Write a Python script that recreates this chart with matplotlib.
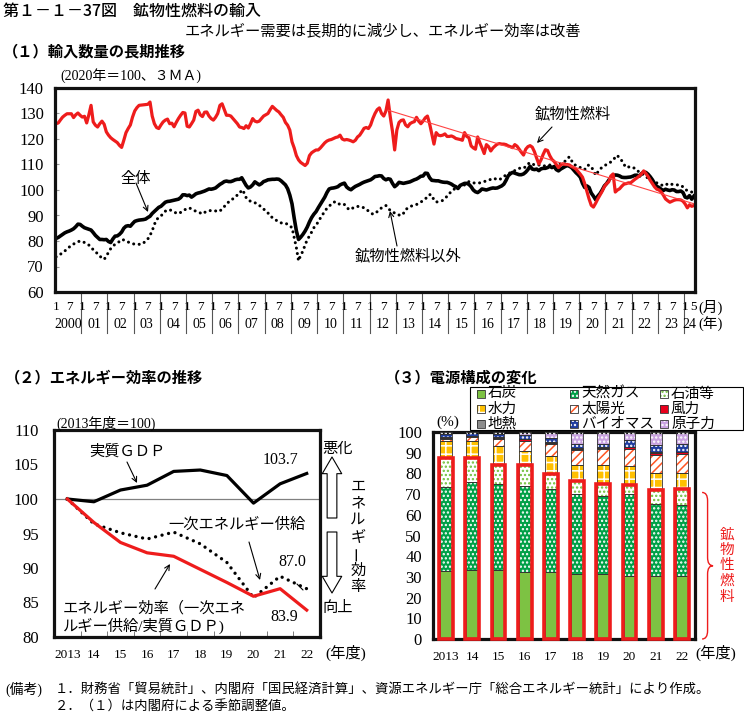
import numpy as np
import matplotlib
matplotlib.use("Agg")
import matplotlib.pyplot as plt
from matplotlib.patches import Rectangle, PathPatch
from matplotlib.path import Path
from matplotlib.transforms import blended_transform_factory

# ==========================[Data]=============================

# (1) import volume, 2020=100, 3MA, monthly from 2000-01 to 2024-05
mineral = [
    126.0, 126.3, 127.5, 128.6, 129.3, 129.9, 129.9, 129.9, 128.4, 129.5, 130.2, 129.3,  # 2000
    128.6, 128.9, 126.3, 129.5, 133.2, 126.7, 125.4, 124.7, 126.0, 127.0, 125.8, 122.8,  # 2001
    121.5, 120.5, 119.8, 119.2, 118.6, 117.5, 116.7, 119.5, 122.5, 124.1, 125.5, 128.6,  # 2002
    131.0, 132.3, 133.2, 133.3, 133.4, 133.5, 133.6, 134.5, 129.0, 126.0, 124.5, 124.1,  # 2003
    125.5, 126.7, 127.4, 127.8, 126.0, 126.2, 124.8, 126.5, 128.0, 129.3, 130.4, 130.2,  # 2004
    125.0, 124.7, 126.0, 127.4, 130.8, 131.3, 129.5, 128.8, 130.5, 130.6, 129.0, 128.0,  # 2005
    127.4, 128.5, 130.0, 133.2, 133.8, 131.5, 129.3, 129.3, 129.0, 128.0, 127.0, 126.0,  # 2006
    124.7, 124.5, 124.1, 125.2, 124.3, 126.0, 128.0, 127.0, 126.7, 127.0, 128.0, 129.0,  # 2007
    129.5, 130.0, 131.5, 132.8, 132.0, 131.2, 130.6, 129.5, 128.5, 126.5, 125.4, 123.5,  # 2008
    118.9, 116.5, 113.5, 111.8, 110.8, 110.2, 109.6, 110.5, 113.5, 114.6, 115.2, 115.7,  # 2009
    115.7, 116.5, 117.5, 118.5, 119.2, 119.6, 119.8, 120.2, 120.6, 120.8, 121.5, 120.0,  # 2010
    119.6, 119.8, 119.6, 119.3, 118.9, 119.5, 120.8, 121.5, 122.8, 124.2, 124.5, 124.1,  # 2011
    125.5, 128.0, 130.0, 131.5, 132.2, 130.0, 129.0, 131.0, 135.3, 128.6, 123.0, 115.7,  # 2012
    123.5, 126.5, 127.3, 127.5, 125.5, 124.8, 126.0, 126.5, 126.8, 128.5, 127.0, 126.0,  # 2013
    127.0, 128.3, 129.0, 126.0, 122.0, 118.0, 122.5, 121.5, 121.3, 121.5, 122.0, 121.0,  # 2014
    121.0, 121.2, 120.8, 120.2, 120.0, 119.8, 119.5, 122.5, 121.0, 120.5, 117.3, 116.5,  # 2015
    116.0, 120.8, 118.5, 116.5, 114.3, 117.8, 117.0, 115.3, 116.5, 117.3, 118.0, 118.2,  # 2016
    118.0, 118.0, 117.8, 117.3, 117.0, 116.6, 117.8, 117.2, 116.0, 114.8, 113.7, 116.0,  # 2017
    117.0, 117.4, 116.8, 115.0, 112.5, 110.2, 111.8, 114.0, 115.8, 115.5, 113.5, 112.0,  # 2018
    111.2, 110.0, 108.8, 109.8, 110.3, 110.0, 110.0, 109.8, 109.2, 108.8, 108.2, 107.2,  # 2019
    106.2, 105.0, 102.5, 99.5, 96.5, 94.0, 93.3, 94.8, 96.5, 98.0, 99.5, 101.3,  # 2020
    102.5, 103.2, 105.5, 106.3, 99.2, 100.0, 100.5, 101.5, 102.3, 102.5, 102.8, 102.8,  # 2021
    103.5, 104.2, 104.8, 105.5, 106.3, 107.5, 106.5, 105.3, 103.8, 102.5, 101.2, 100.3,  # 2022
    100.0, 99.2, 98.0, 96.5, 95.8, 95.2, 95.6, 96.0, 96.2, 96.2, 96.1, 95.6,  # 2023
    94.5, 93.0, 94.2, 93.6, 93.9,  # 2024
]

total = [
    81.0, 81.4, 82.0, 82.6, 83.2, 83.6, 83.9, 84.3, 84.8, 85.6, 86.6, 86.5,  # 2000
    85.8, 85.2, 84.9, 84.6, 84.3, 83.3, 82.2, 81.4, 80.6, 80.6, 80.5, 80.6,  # 2001
    79.8, 79.4, 80.8, 81.9, 82.0, 82.6, 83.5, 85.0, 85.8, 86.0, 85.8, 86.8,  # 2002
    87.7, 88.0, 88.2, 88.3, 88.4, 88.6, 89.2, 89.7, 90.8, 91.6, 92.4, 93.2,  # 2003
    93.6, 94.4, 95.2, 95.5, 95.6, 95.8, 96.0, 96.2, 96.4, 97.0, 98.1, 98.1,  # 2004
    97.8, 98.0, 97.2, 97.8, 98.5, 98.8, 99.0, 99.3, 99.6, 100.0, 100.4, 100.3,  # 2005
    100.5, 100.8, 101.5, 102.2, 102.7, 103.3, 103.5, 103.3, 103.3, 103.6, 104.0, 104.2,  # 2006
    104.2, 104.8, 103.3, 101.8, 100.8, 101.2, 102.0, 103.2, 102.6, 102.0, 102.5, 103.3,  # 2007
    103.6, 104.0, 104.1, 104.2, 104.2, 104.3, 104.2, 103.6, 102.8, 102.0, 100.5, 98.0,  # 2008
    94.6, 89.0, 84.0, 80.6, 81.5, 82.6, 83.9, 85.5, 87.5, 89.2, 90.5, 91.5,  # 2009
    93.0, 94.4, 95.8, 97.2, 99.0, 100.4, 100.7, 100.8, 101.0, 101.3, 102.0, 102.4,  # 2010
    102.7, 101.2, 100.5, 100.1, 100.8, 101.4, 101.8, 102.2, 102.7, 103.1, 103.4, 103.7,  # 2011
    104.0, 104.6, 105.3, 105.4, 105.6, 105.5, 104.5, 104.0, 104.4, 104.2, 102.6, 101.3,  # 2012
    102.0, 103.0, 102.8, 102.6, 102.8, 103.0, 103.2, 103.6, 104.0, 104.3, 104.8, 105.4,  # 2013
    105.5, 106.6, 106.5, 104.8, 103.8, 103.7, 103.6, 103.6, 103.3, 103.1, 103.0, 103.0,  # 2014
    102.7, 102.3, 101.7, 101.3, 100.6, 101.8, 102.2, 102.6, 102.6, 102.2, 101.3, 100.0,  # 2015
    99.3, 99.0, 99.6, 100.4, 100.2, 100.0, 100.3, 100.6, 100.8, 100.7, 100.8, 101.2,  # 2016
    101.6, 102.3, 103.8, 105.6, 106.4, 106.9, 106.6, 106.3, 106.0, 106.0, 106.3, 107.0,  # 2017
    108.0, 109.3, 108.2, 108.0, 108.2, 107.6, 108.3, 108.5, 108.5, 108.8, 109.3, 108.8,  # 2018
    109.2, 108.0, 107.5, 108.2, 108.7, 109.2, 109.6, 109.3, 108.8, 107.8, 106.8, 106.0,  # 2019
    105.0, 102.6, 101.0, 101.6, 101.0, 98.8, 97.6, 96.2, 97.6, 98.6, 100.0, 101.6,  # 2020
    102.5, 103.8, 105.0, 105.6, 105.9, 105.8, 105.5, 105.0, 104.9, 104.9, 105.0, 105.1,  # 2021
    105.4, 105.8, 105.8, 105.4, 106.4, 107.0, 106.9, 106.2, 105.2, 104.0, 102.5, 101.4,  # 2022
    101.0, 100.3, 99.8, 100.3, 100.0, 99.8, 100.1, 100.0, 99.4, 99.4, 99.6, 99.0,  # 2023
    97.2, 96.9, 97.8, 96.4, 97.6,  # 2024
]

non_mineral = [
    73.8, 74.3, 74.8, 75.5, 76.1, 76.8, 77.6, 78.3, 78.8, 79.3, 79.7, 80.0,  # 2000
    79.8, 79.4, 79.0, 78.4, 77.5, 76.6, 75.8, 75.0, 74.1, 73.3, 72.8, 74.0,  # 2001
    75.6, 77.0, 78.0, 78.7, 79.2, 79.8, 80.6, 80.4, 80.0, 79.6, 79.2, 78.9,  # 2002
    78.8, 78.7, 78.7, 78.7, 79.2, 80.0, 80.8, 82.2, 84.0, 86.5, 88.4, 89.2,  # 2003
    89.8, 90.8, 91.7, 92.0, 92.3, 91.8, 91.3, 91.0, 90.7, 91.2, 91.7, 92.3,  # 2004
    92.7, 93.0, 92.5, 92.0, 91.7, 91.4, 91.0, 90.6, 91.2, 91.7, 91.8, 92.0,  # 2005
    92.0, 91.8, 91.5, 91.8, 92.5, 93.5, 94.5, 95.3, 95.8, 96.6, 97.4, 98.0,  # 2006
    98.5, 100.1, 99.0, 97.0, 96.0, 95.6, 95.4, 95.0, 94.6, 94.0, 93.3, 92.5,  # 2007
    91.9, 91.0, 89.8, 89.2, 88.6, 88.0, 87.5, 87.1, 87.1, 87.0, 86.5, 85.8,  # 2008
    85.3, 81.3, 77.4, 72.2, 74.5, 76.0, 78.5, 80.5, 82.0, 83.5, 85.2, 86.2,  # 2009
    87.5, 89.0, 90.3, 91.7, 92.8, 93.6, 94.5, 95.2, 95.4, 95.0, 94.2, 94.3,  # 2010
    94.3, 93.5, 92.3, 92.5, 93.0, 93.2, 93.6, 93.3, 93.3, 93.0, 92.3, 91.8,  # 2011
    91.2, 90.5, 90.8, 91.5, 92.3, 93.0, 93.5, 93.9, 92.8, 92.0, 91.3, 91.0,  # 2012
    90.8, 90.2, 90.0, 90.8, 92.3, 92.9, 93.5, 93.8, 94.0, 94.3, 94.8, 95.3,  # 2013
    95.8, 96.5, 97.3, 98.2, 98.0, 96.0, 95.3, 95.4, 95.6, 95.9, 96.8, 97.5,  # 2014
    98.6, 99.4, 100.2, 100.7, 101.0, 101.4, 101.6, 102.0, 102.5, 103.3, 103.0, 102.8,  # 2015
    102.7, 102.7, 102.8, 103.0, 103.3, 103.6, 103.8, 104.2, 104.6, 104.4, 104.0, 104.1,  # 2016
    104.6, 105.3, 105.9, 106.4, 106.8, 107.3, 107.6, 108.0, 108.5, 108.6, 108.5, 109.2,  # 2017
    110.2, 110.7, 110.3, 109.8, 109.8, 109.8, 109.6, 109.4, 109.5, 109.8, 109.8, 109.6,  # 2018
    109.3, 109.5, 110.0, 110.3, 110.7, 111.3, 112.3, 113.0, 111.5, 110.0, 109.7, 109.3,  # 2019
    108.8, 108.3, 108.0, 109.5, 109.8, 109.0, 107.8, 105.8, 107.0, 108.3, 108.8, 109.5,  # 2020
    110.0, 110.5, 111.0, 111.8, 112.8, 113.6, 112.2, 111.5, 110.0, 108.8, 109.0, 109.2,  # 2021
    108.8, 108.5, 107.9, 106.8, 106.5, 106.0, 105.3, 104.6, 104.3, 103.8, 103.3, 102.8,  # 2022
    102.4, 102.0, 101.7, 101.8, 102.5, 102.6, 102.2, 102.0, 102.0, 102.0, 101.9, 101.2,  # 2023
    100.2, 99.8, 99.4, 99.2, 97.8,  # 2024
]

first_year = 2000
trend_months = [(2012, 9), (2024, 5)]
trend_values = [131.3, 94.6]

# (2) energy efficiency, FY2013=100
fy_labels = ['2013', '14', '15', '16', '17', '18', '19', '20', '21', '22']
gdp = [100.0, 99.6, 101.3, 102.0, 104.0, 104.2, 103.4, 99.4, 102.2, 103.7]
supply = [100.0, 96.4, 95.1, 94.2, 95.2, 93.5, 90.8, 85.7, 88.8, 87.0]
efficiency = [100.0, 96.6, 93.7, 92.2, 91.7, 89.8, 87.9, 85.9, 87.0, 83.9]

# (3) power source mix (%)
src_names = ['石炭', '天然ガス', '石油等', '水力', '太陽光', '風力', '地熱', 'バイオマス', '原子力']
coal = [32.7, 33.1, 33.5, 32.3, 32.3, 31.2, 31.5, 30.4, 30.4, 30.4]
gas = [40.9, 42.8, 41.3, 41.6, 40.0, 38.7, 37.6, 39.5, 34.6, 34.2]
oil = [13.6, 11.3, 9.3, 10.2, 7.3, 6.5, 6.0, 4.5, 6.8, 7.7]
hydro = [8.3, 8.3, 9.3, 6.8, 8.9, 7.7, 8.9, 9.3, 8.6, 7.7]
solar = [1.2, 1.9, 3.3, 4.9, 5.7, 7.2, 7.6, 8.0, 8.6, 9.3]
wind = [0.5, 0.5, 0.5, 0.6, 0.6, 0.7, 0.7, 0.9, 0.9, 0.9]
geo = [0.2, 0.2, 0.2, 0.2, 0.2, 0.2, 0.3, 0.3, 0.3, 0.3]
biomass = [1.7, 1.9, 1.7, 1.8, 1.9, 2.1, 1.8, 3.2, 3.3, 3.9]
nuclear = [0.9, 0.0, 0.9, 1.6, 3.1, 5.7, 5.6, 3.9, 6.5, 5.6]

# ==========================[Style]=============================

W, H = 744, 724
SERIF = ['Liberation Serif', 'Noto Sans CJK JP']
GOTH = ['Noto Sans CJK JP', 'DejaVu Sans']
RED = '#ee1c1c'
plt.rcParams['font.family'] = SERIF
plt.rcParams['hatch.linewidth'] = 1.1

# face, hatch, hatch colour
src_style = [
    ('#7dc243', None, None),
    ('#00a047', '....', 'white'),
    ('white', '....', '#6fbf3a'),
    ('#ffc000', '++', 'white'),
    ('white', '////', '#ff5522'),
    ('#e8001c', None, None),
    ('#8c8c8c', None, None),
    ('#1f3c9e', '....', 'white'),
    ('#c9a3e0', '....', 'white'),
]


def P(x, y):
    return x / W, 1 - y / H


def ftext(x, y, s, **kw):
    kw.setdefault('va', 'center')
    fig.text(*P(x, y), s, **kw)


def vtext(x, y0, step, s, **kw):
    for k, ch in enumerate(s):
        rot = 90 if ch == 'ー' else 0
        fig.text(*P(x, y0 + k * step), ch, ha='center', va='center', rotation=rot, **kw)


def arrow(x1, y1, x2, y2, style='->', **kw):
    fig.add_artist(matplotlib.patches.FancyArrowPatch(
        P(x1, y1), P(x2, y2), transform=fig.transFigure, arrowstyle=style,
        mutation_scale=kw.pop('ms', 9), lw=kw.pop('lw', 0.8), color=kw.pop('color', 'black'),
        shrinkA=0, shrinkB=0, **kw))


def frame(ax):
    for s in ax.spines.values():
        s.set_linewidth(2.3)
        s.set_color('#111111')


fig = plt.figure(figsize=(W / 100, H / 100), dpi=100)

# ==========================[Titles]=============================
ftext(3, 11, '第１－１－37図　鉱物性燃料の輸入', family=GOTH, fontsize=11.5, fontweight='medium')
ftext(383, 31, 'エネルギー需要は長期的に減少し、エネルギー効率は改善', family=GOTH, fontsize=11,
      ha='center')
ftext(3, 51, '（１）輸入数量の長期推移', family=GOTH, fontsize=11, fontweight='bold')
ftext(5, 377, '（２）エネルギー効率の推移', family=GOTH, fontsize=11, fontweight='bold')
ftext(385, 377, '（３）電源構成の変化', family=GOTH, fontsize=11, fontweight='bold')

# ==========================[(1) Long term]=============================
ax1 = fig.add_axes([55 / W, 1 - 292 / H, 640 / W, 204 / H])
n = len(mineral)
m = np.arange(n)
ax1.plot(m, non_mineral, color='black', lw=2.2, linestyle=(0, (0.01, 1.8)), dash_capstyle='round')
ax1.plot(m, total, color='black', lw=2.6)
ax1.plot(m, mineral, color=RED, lw=2.3)
tm = [(y - first_year) * 12 + mo - 1 for y, mo in trend_months]
ax1.plot(tm, trend_values, color='#ff4444', lw=0.8)
ax1.set_xlim(-0.5, n - 0.5)
ax1.set_ylim(60, 140)
ax1.set_yticks(range(60, 141, 10))
ax1.set_xticks([])
ax1.tick_params(axis='y', direction='in', length=3, color='#999999', labelsize=12, pad=8)
frame(ax1)

tr = blended_transform_factory(ax1.transData, ax1.transAxes)
years = list(range(first_year, first_year + (n + 11) // 12))
for y in years:
    s = (y - first_year) * 12
    e = min(s + 12, n)
    marks = [(0, '1'), (6, '7')] if e - s == 12 else [(0, '1'), (e - s - 1, '5')]
    for off, lab in marks:
        ax1.text(s + off, -0.072, lab, transform=tr, ha='center', va='center', fontsize=9.5)
    ax1.text((s + e - 1) / 2, -0.157, '2000' if y == first_year else '%02d' % (y % 100),
             transform=tr, ha='center', va='center', fontsize=10)
    if s > 0:
        ax1.plot([s - 0.5, s - 0.5], [0, -0.2], transform=tr, clip_on=False, color='#555555', lw=0.8)
ftext(698, 307, '(月)', fontsize=10.5)
ftext(698, 324, '(年)', fontsize=10.5)
ftext(60, 76, '(2020年＝100、３ＭＡ)', fontsize=10)

ftext(120, 179, '全体', fontsize=11)
arrow(136, 183, 148, 212)
ftext(535, 114, '鉱物性燃料', fontsize=11)
arrow(552, 127, 537, 143)
ftext(355, 256, '鉱物性燃料以外', fontsize=11)
arrow(397, 246, 390, 211)

# ==========================[(2) Efficiency]=============================
ax2 = fig.add_axes([54 / W, 1 - 637 / H, 266 / W, 207 / H])
x = np.arange(len(fy_labels))
ax2.axhline(100, color='#808080', lw=0.9)
ax2.plot(x, gdp, color='black', lw=2.3)
ax2.plot(x, supply, color='black', lw=2.4, linestyle=(0, (0.01, 2.0)), dash_capstyle='round')
ax2.plot(x, efficiency, color=RED, lw=2.3)
ax2.set_xlim(-0.5, len(x) - 0.5)
ax2.set_ylim(80, 110)
ax2.set_yticks(range(80, 111, 5))
ax2.set_xticks(x)
ax2.set_xticklabels(fy_labels)
ax2.set_xticks(np.arange(-0.5, len(x), 1), minor=True)
ax2.tick_params(axis='x', which='major', length=0, labelsize=9.5, pad=9)
ax2.tick_params(axis='x', which='minor', direction='in', length=4, color='#666666')
ax2.tick_params(axis='y', direction='in', length=0, labelsize=12, pad=11)
frame(ax2)

ftext(56, 423, '(2013年度＝100)', fontsize=10)
ftext(89, 451, '実質ＧＤＰ', fontsize=11)
arrow(127, 462, 137, 483)
ftext(263, 460, '103.7', fontsize=11.5)
ftext(168, 525, '一次エネルギー供給', fontsize=11)
arrow(249, 542, 260, 580)
ftext(278, 562, '87.0', fontsize=11.5)
arrow(297, 584, 303, 590, style='-')
ftext(63, 608, 'エネルギー効率（一次エネ', fontsize=11)
ftext(63, 626, 'ルギー供給/実質ＧＤＰ)', fontsize=11)
arrow(155, 589, 170, 564)
ftext(270, 617, '83.9', fontsize=11.5)
ftext(322, 449, '悪化', fontsize=11)
ftext(322, 608, '向上', fontsize=11)
hollow = 'simple,head_length=1.2,head_width=1.4,tail_width=0.7'
arrow(332, 518, 332, 457, style=hollow, fc='white', ec='black', lw=0.8, ms=10)
arrow(332, 532, 332, 593, style=hollow, fc='white', ec='black', lw=0.8, ms=10)
vtext(358, 487, 16.7, 'エネルギー効率', fontsize=11)

# ==========================[(3) Power mix]=============================
ax3 = fig.add_axes([433 / W, 1 - 639 / H, 262 / W, 207 / H])
mix = [coal, gas, oil, hydro, solar, wind, geo, biomass, nuclear]
bw = 0.45
bottom = np.zeros(len(fy_labels))
for vals, (face, hatch, hc) in zip(mix, src_style):
    v = np.array(vals)
    ax3.bar(x, v, bw, bottom=bottom, color=face, edgecolor='none', zorder=2)
    if hatch:
        ax3.bar(x, v, bw, bottom=bottom, facecolor='none', edgecolor=hc, hatch=hatch, lw=0, zorder=3)
    keep = v > 0
    ax3.bar(x[keep], v[keep], bw, bottom=bottom[keep], facecolor='none', edgecolor='#333333',
            lw=0.6, zorder=4)
    bottom = bottom + v
fossil = np.array(coal) + np.array(gas) + np.array(oil)
for i, f in enumerate(fossil):
    ax3.add_patch(Rectangle((i - 0.26, 0), 0.52, f, fill=False, edgecolor=RED, lw=2.6,
                            zorder=5, clip_on=False))
ax3.set_xlim(-0.5, len(x) - 0.5)
ax3.set_ylim(0, 100)
ax3.set_yticks(range(0, 101, 10))
ax3.set_xticks(x)
ax3.set_xticklabels(fy_labels)
ax3.tick_params(axis='x', length=0, labelsize=9.5, pad=9)
ax3.tick_params(axis='y', direction='in', length=0, labelsize=12, pad=8)
frame(ax3)
ftext(436, 422, '(%)', fontsize=11)
ftext(695, 653, '(年度)', fontsize=11)
ftext(325, 653, '(年度)', fontsize=11)

# brace around the fossil part
bt = blended_transform_factory(ax3.transAxes, ax3.transData)
top = fossil[-1] - 1.5
mid = top / 2
x0, xm, x1 = 1.027, 1.048, 1.069
r = 4
verts = [(x0, top), (xm, top), (xm, top - r), (xm, mid + r), (xm, mid), (x1, mid),
         (xm, mid), (xm, mid - r), (xm, r), (xm, 0), (x0, 0)]
codes = [Path.MOVETO, Path.CURVE3, Path.CURVE3, Path.LINETO, Path.CURVE3, Path.CURVE3,
         Path.CURVE3, Path.CURVE3, Path.LINETO, Path.CURVE3, Path.CURVE3]
ax3.add_patch(PathPatch(Path(verts, codes), transform=bt, fill=False, edgecolor=RED, lw=1.0,
                        clip_on=False))
vtext(727, 535, 15.5, '鉱物性燃料', fontsize=10.5, color=RED)

# legend drawn as a fixed 3x3 grid
fig.add_artist(Rectangle(P(470, 430), 273 / W, 43 / H, transform=fig.transFigure,
                         facecolor='white', edgecolor='black', lw=0.8))
cols = [477, 570, 660]
rows = [394, 409, 424]
for k, (name, (face, hatch, hc)) in enumerate(zip(src_names, src_style)):
    lx, ly = cols[k % 3], rows[k // 3]
    fig.add_artist(Rectangle(P(lx, ly + 4), 8 / W, 8 / H, transform=fig.transFigure,
                             facecolor=face, edgecolor='none'))
    if hatch:
        fig.add_artist(Rectangle(P(lx, ly + 4), 8 / W, 8 / H, transform=fig.transFigure,
                                 facecolor='none', edgecolor=hc, hatch=hatch, lw=0))
    fig.add_artist(Rectangle(P(lx, ly + 4), 8 / W, 8 / H, transform=fig.transFigure,
                             facecolor='none', edgecolor='#333333', lw=0.6))
    ftext(lx + 11, ly, name, fontsize=10.5)

# ==========================[Notes]=============================
ftext(5, 689, '(備考)', fontsize=10)
ftext(55, 689, '１．財務省「貿易統計」、内閣府「国民経済計算」、資源エネルギー庁「総合エネルギー統計」により作成。',
      fontsize=9.6)
ftext(55, 707, '２．（１）は内閣府による季節調整値。', fontsize=9.6)

fig.savefig('out.png', dpi=100)
